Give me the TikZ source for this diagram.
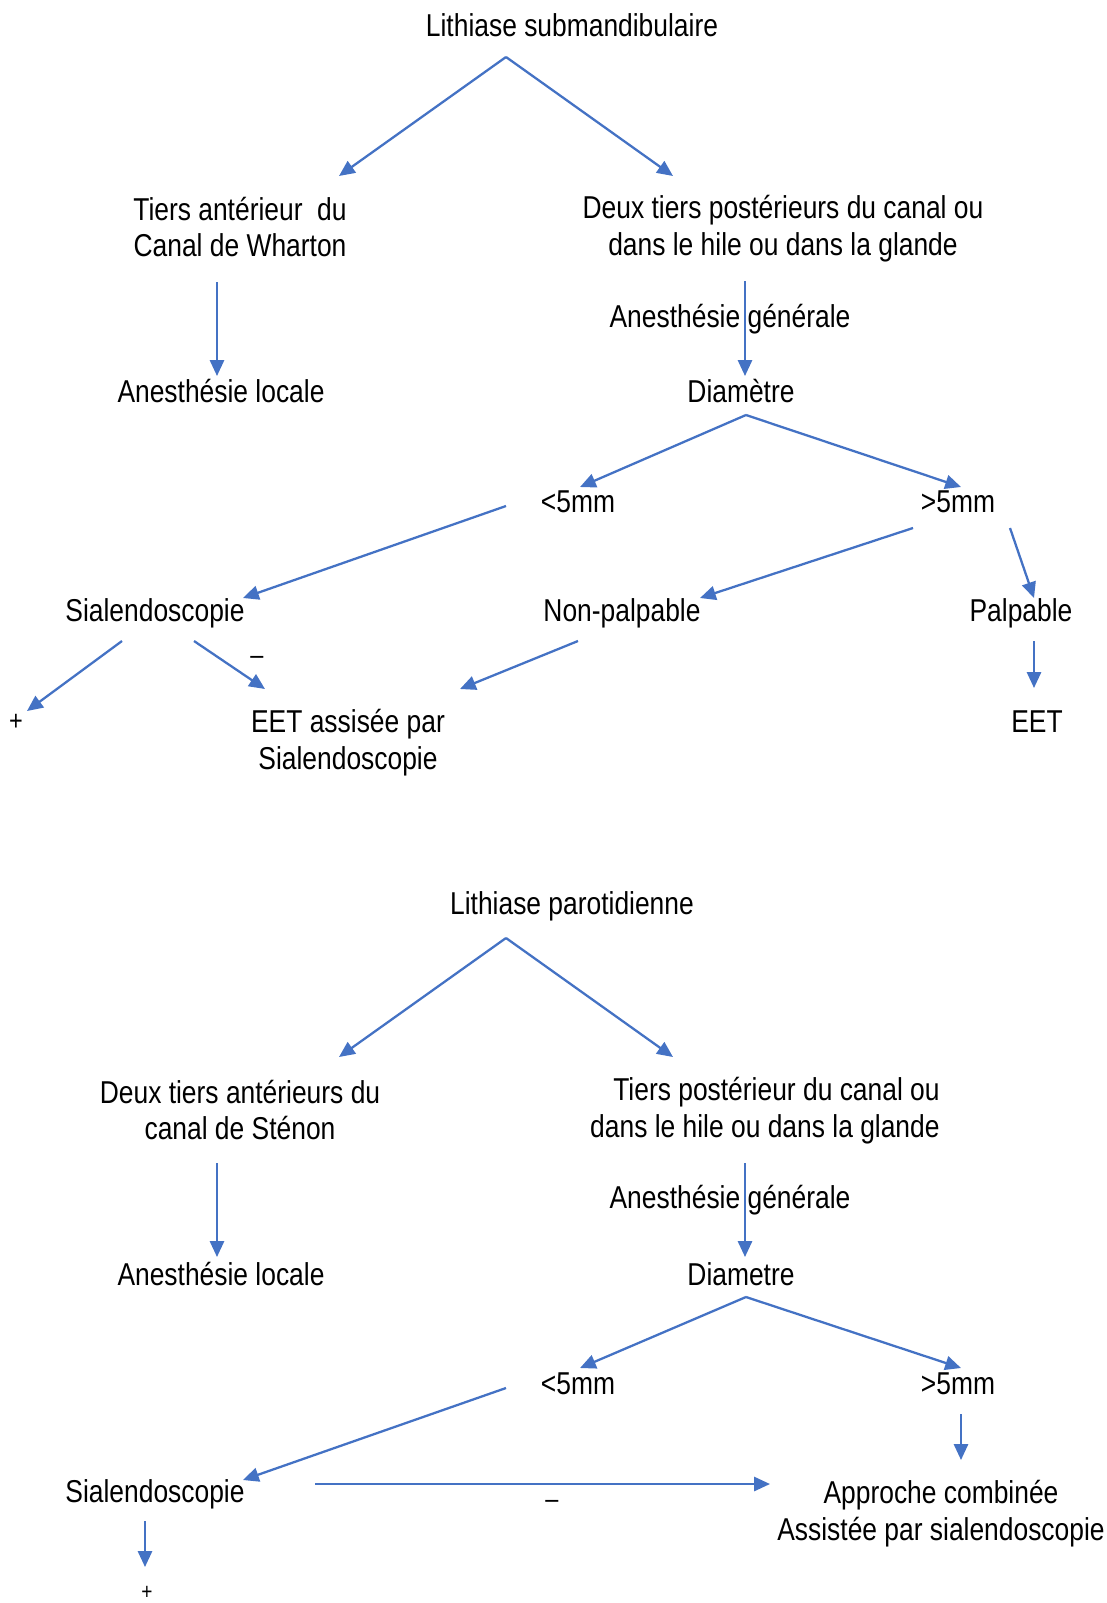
\documentclass[tikz,border=0pt]{standalone}
\usepackage{fontspec}
\setmainfont{Liberation Sans}[FakeStretch=0.835]
\usepackage{tikz}
\usetikzlibrary{arrows.meta}
\definecolor{flowblue}{RGB}{68,114,196}
\newcommand{\txtnode}{\node[font=\fontsize{18}{21}\selectfont,align=center,inner sep=0pt]}
\newcommand{\signnode}{\node[font=\fontsize{16}{18}\selectfont,inner sep=0pt]}

\begin{document}
\begin{tikzpicture}[x=0.02cm,y=-0.02cm,
    >={Triangle[length=9pt,width=8pt]},
    flow/.style={->,draw=flowblue,line width=1.3pt}]
      \useasboundingbox (0,0) rectangle (1106,1603);
      % lithiase submandibulaire
      \txtnode (sub) at (572,25) {Lithiase submandibulaire};
      \coordinate (subv) at (506,57);
      \coordinate (antin) at (339,176);
      \coordinate (postin) at (673,176);
      \txtnode (ant) at (240,227) {Tiers antérieur\ \ du\\Canal de Wharton};
      \txtnode (post) at (783,229) {Deux tiers postérieurs du canal ou\\dans le hile ou dans la glande};
      \coordinate (antout) at (217,282);
      \coordinate (locin) at (217,376);
      \txtnode (loc) at (221,391) {Anesthésie locale};
      \coordinate (postout) at (745,281);
      \coordinate (diamin) at (745,376);
      \txtnode (gen) at (730,319) {Anesthésie générale};
      \txtnode (diam) at (741,391) {Diamètre};
      \coordinate (diamv) at (746,415);
      \coordinate (ltin) at (580,487);
      \coordinate (gtin) at (961,487);
      \txtnode (lt) at (578,502) {<5mm};
      \txtnode (gt) at (958,502) {>5mm};
      \coordinate (ltout) at (506,506);
      \coordinate (sialin) at (243,598);
      \txtnode (sial) at (155,613) {Sialendoscopie};
      \coordinate (gtouta) at (913,528);
      \coordinate (npin) at (700,598);
      \coordinate (gtoutb) at (1010,528);
      \coordinate (palpin) at (1034,598);
      \txtnode (np) at (622,613) {Non-palpable};
      \txtnode (palp) at (1021,613) {Palpable};
      \coordinate (palpout) at (1034,641);
      \coordinate (eetin) at (1034,688);
      \txtnode (eet) at (1037,722) {EET};
      \coordinate (npout) at (578,641);
      \coordinate (eetsin) at (460,689);
      \txtnode (eets) at (348,743) {EET assisée par\\Sialendoscopie};
      \coordinate (sialouta) at (122,641);
      \coordinate (plusin) at (27,711);
      \signnode (plus) at (16,722) {+};
      \coordinate (sialoutb) at (194,641);
      \coordinate (eetsinb) at (265,689);
      \signnode (minus) at (257,660) {–};
      \draw[flow] (subv) -- (antin);
      \draw[flow] (subv) -- (postin);
      \draw[flow] (antout) -- (locin);
      \draw[flow] (postout) -- (diamin);
      \draw[flow] (diamv) -- (ltin);
      \draw[flow] (diamv) -- (gtin);
      \draw[flow] (ltout) -- (sialin);
      \draw[flow] (gtouta) -- (npin);
      \draw[flow] (gtoutb) -- (palpin);
      \draw[flow] (palpout) -- (eetin);
      \draw[flow] (npout) -- (eetsin);
      \draw[flow] (sialouta) -- (plusin);
      \draw[flow] (sialoutb) -- (eetsinb);
      % lithiase parotidienne
      \txtnode (par) at (572,906) {Lithiase parotidienne};
      \coordinate (parv) at (506,938);
      \coordinate (antbin) at (339,1057);
      \coordinate (postbin) at (673,1057);
      \txtnode (antb) at (240,1110) {Deux tiers antérieurs du\\canal de Sténon};
      \txtnode[anchor=east,align=right] (postb) at (940,1111) {Tiers postérieur du canal ou\\dans le hile ou dans la glande};
      \coordinate (antbout) at (217,1163);
      \coordinate (locbin) at (217,1257);
      \txtnode (locb) at (221,1274) {Anesthésie locale};
      \coordinate (postbout) at (745,1163);
      \coordinate (diambin) at (745,1257);
      \txtnode (genb) at (730,1200) {Anesthésie générale};
      \txtnode (diamb) at (741,1274) {Diametre};
      \coordinate (diambv) at (746,1297);
      \coordinate (ltbin) at (580,1368);
      \coordinate (gtbin) at (961,1368);
      \txtnode (ltb) at (578,1384) {<5mm};
      \txtnode (gtb) at (958,1384) {>5mm};
      \coordinate (ltbout) at (506,1388);
      \coordinate (sialbin) at (243,1480);
      \txtnode (sialb) at (155,1494) {Sialendoscopie};
      \coordinate (gtbout) at (961,1414);
      \coordinate (appin) at (961,1460);
      \txtnode (app) at (941,1514) {Approche combinée\\Assistée par sialendoscopie};
      \coordinate (sialbouta) at (315,1484);
      \coordinate (appinb) at (770,1484);
      \signnode (minusb) at (552,1504) {–};
      \coordinate (sialboutb) at (145,1521);
      \coordinate (plusbin) at (145,1567);
      \signnode[font=\fontsize{13}{15}\selectfont] (plusb) at (147,1593) {+};
      \draw[flow] (parv) -- (antbin);
      \draw[flow] (parv) -- (postbin);
      \draw[flow] (antbout) -- (locbin);
      \draw[flow] (postbout) -- (diambin);
      \draw[flow] (diambv) -- (ltbin);
      \draw[flow] (diambv) -- (gtbin);
      \draw[flow] (ltbout) -- (sialbin);
      \draw[flow] (gtbout) -- (appin);
      \draw[flow] (sialbouta) -- (appinb);
      \draw[flow] (sialboutb) -- (plusbin);
\end{tikzpicture}
\end{document}
